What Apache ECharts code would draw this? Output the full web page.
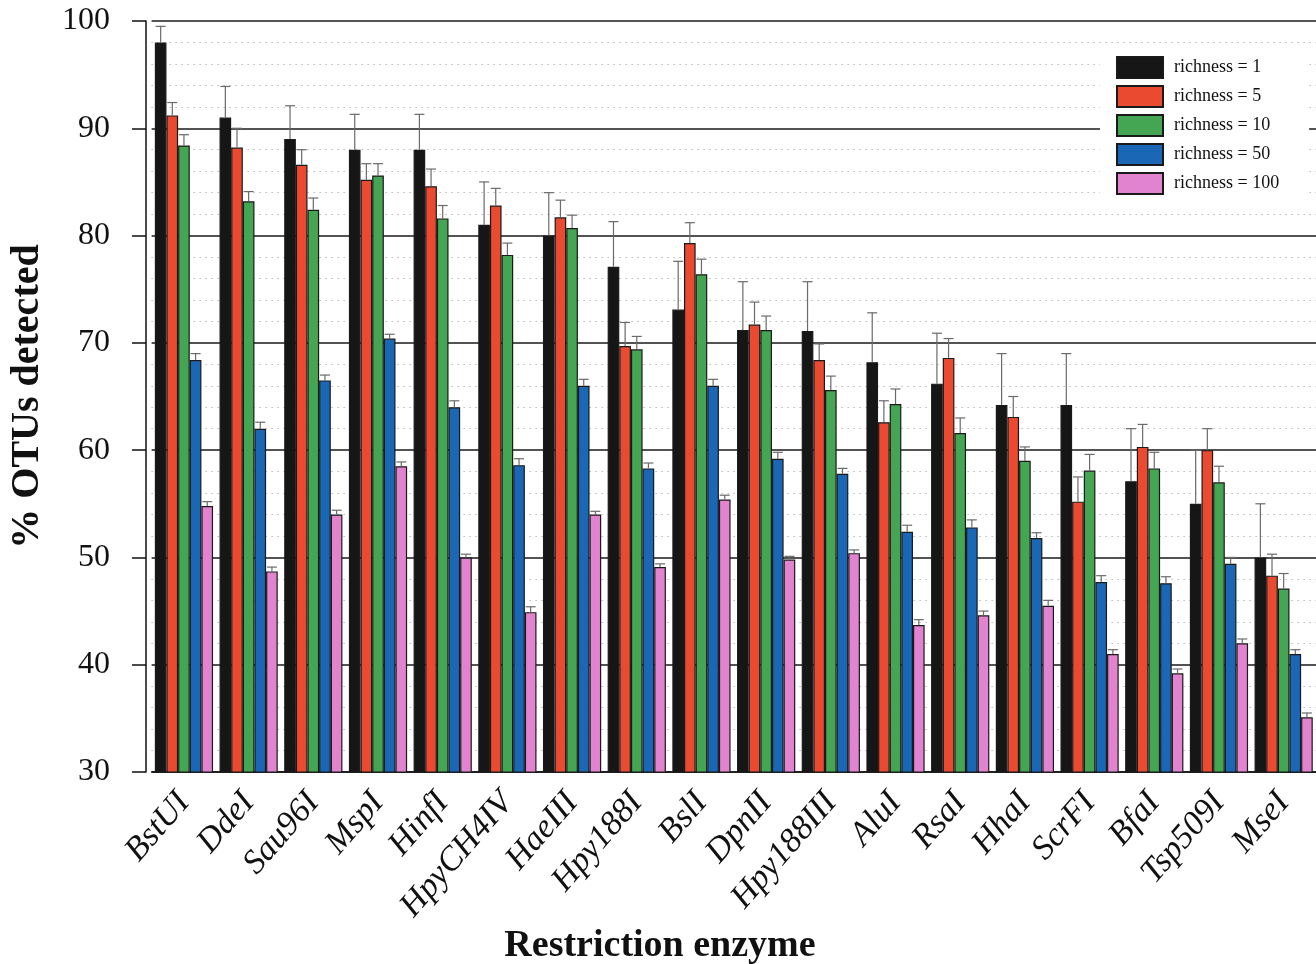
<!DOCTYPE html>
<html>
<head>
<meta charset="utf-8">
<script src="https://cdn.jsdelivr.net/npm/echarts@6/dist/echarts.min.js"></script>
<style>html,body{margin:0;padding:0;background:#fff}#c{width:1316px;height:964px}</style>
</head>
<body>
<div id="c"></div>
<script>
const categories = ['BstUI','DdeI','Sau96I','MspI','HinfI','HpyCH4IV','HaeIII','Hpy188I','BslI','DpnII','Hpy188III','AluI','RsaI','HhaI','ScrFI','BfaI','Tsp509I','MseI'];
const seriesNames = ['richness = 1','richness = 5','richness = 10','richness = 50','richness = 100'];
const yTicks = [30,40,50,60,70,80,90,100];

const r1   = [98.0,91.0,89.0,88.0,88.0,81.0,80.0,77.1,73.1,71.2,71.1,68.2,66.2,64.2,64.2,57.1,55.0,50.0];
const r5   = [91.2,88.2,86.6,85.2,84.6,82.8,81.7,69.7,79.3,71.7,68.4,62.6,68.6,63.1,55.2,60.3,60.0,48.3];
const r10  = [88.4,83.2,82.4,85.6,81.6,78.2,80.7,69.4,76.4,71.2,65.6,64.3,61.6,59.0,58.1,58.3,57.0,47.1];
const r50  = [68.4,62.0,66.5,70.4,64.0,58.6,66.0,58.3,66.0,59.2,57.8,52.4,52.8,51.8,47.7,47.6,49.4,41.0];
const r100 = [54.8,48.7,54.0,58.5,50.0,44.9,54.0,49.1,55.4,49.8,50.4,43.7,44.6,45.5,41.0,39.2,42.0,35.1];

const e1   = [1.5,2.9,3.1,3.3,3.3,4.0,4.0,4.2,4.5,4.5,4.6,4.6,4.7,4.8,4.8,4.9,5.0,5.0];
const e5   = [1.2,1.8,1.4,1.5,1.6,1.6,1.6,2.2,1.9,2.1,1.5,2.0,1.8,1.9,2.3,2.1,2.0,2.0];
const e10  = [1.0,0.9,1.1,1.1,1.2,1.1,1.2,1.2,1.4,1.3,1.3,1.4,1.4,1.3,1.5,1.5,1.5,1.4];
const e50  = [0.6,0.6,0.5,0.4,0.6,0.6,0.6,0.5,0.6,0.6,0.5,0.6,0.7,0.5,0.6,0.6,0.6,0.4];
const e100 = [0.4,0.4,0.4,0.4,0.3,0.5,0.3,0.3,0.4,0.3,0.3,0.5,0.4,0.5,0.4,0.4,0.4,0.4];

const means = [r1, r5, r10, r50, r100];
const errs = [e1, e5, e10, e50, e100];
const colors = ['#161616','#ea4a30','#44a552','#1a67b6','#e283d0'];

const SERIF = "'Liberation Serif','Times New Roman',serif";

const errData = [];
means.forEach((arr, s) => {
  arr.forEach((v, i) => errData.push([i, v + errs[s][i], s, v]));
});

const barSeries = seriesNames.map((name, s) => ({
  name: name,
  type: 'bar',
  data: means[s],
  barGap: '0%',
  barCategoryGap: '10%',
  itemStyle: { color: colors[s], borderColor: '#1a1a1a', borderWidth: 1.2 },
  z: 3
}));

const chart = echarts.init(document.getElementById('c'), null, { renderer: 'canvas' });
chart.setOption({
  animation: false,
  backgroundColor: '#fff',
  grid: { left: 150.6, right: -0.5, top: 21, bottom: 192 },
  title: {
    text: 'Restriction enzyme',
    left: 655, top: 922, textAlign: 'center',
    textStyle: { fontFamily: SERIF, fontWeight: 'bold', fontSize: 38, color: '#111' }
  },
  legend: {
    orient: 'vertical',
    left: 1100, top: 46,
    data: seriesNames,
    itemWidth: 46, itemHeight: 21, itemGap: 6,
    icon: 'rect',
    backgroundColor: '#fff',
    padding: [10, 30, 10, 16],
    textStyle: { fontFamily: SERIF, fontSize: 18, lineHeight: 21, color: '#111', padding: [0, 0, 0, 6] }
  },
  xAxis: {
    type: 'category',
    data: categories,
    axisLine: { lineStyle: { color: '#111', width: 1.5 } },
    axisTick: { alignWithLabel: true, length: 11, lineStyle: { color: '#111', width: 1.5 } },
    axisLabel: {
      interval: 0, rotate: 49, margin: 25,
      fontFamily: SERIF, fontStyle: 'italic', fontSize: 34, color: '#111'
    },
    splitLine: { show: false }
  },
  yAxis: {
    type: 'value',
    min: 30, max: 100, interval: 10,
    offset: 5.6,
    name: '% OTUs detected',
    nameLocation: 'middle',
    nameGap: 98,
    nameTextStyle: { fontFamily: SERIF, fontWeight: 'bold', fontSize: 40, color: '#111' },
    axisLine: { show: true, lineStyle: { color: '#111', width: 1.5 } },
    axisTick: { show: true, inside: false, length: 14, lineStyle: { color: '#111', width: 1.5 } },
    axisLabel: {
      margin: 36, fontFamily: SERIF, fontSize: 32, color: '#111',
      formatter: v => (yTicks.indexOf(v) >= 0 ? String(v) : '')
    },
    splitLine: { show: true, lineStyle: { color: '#1a1a1a', width: 1.5 } },
    minorTick: { show: false, splitNumber: 5 },
    minorSplitLine: { show: true, lineStyle: { color: '#999', width: 1, type: [1, 5] } }
  },
  series: barSeries.concat([{
    type: 'custom',
    name: 'err',
    data: errData,
    encode: { x: 0, y: 1 },
    z: 5,
    silent: true,
    renderItem: function (params, api) {
      const cat = api.value(0), top = api.value(1), s = api.value(2), mean = api.value(3);
      const band = api.size([1, 0])[0];
      const bw = band * 0.9 / 5;
      const base = api.coord([cat, mean]);
      const tp = api.coord([cat, top]);
      const x = base[0] + (s - 2) * bw;
      const st = { stroke: '#6a6a6a', lineWidth: 1.2 };
      return {
        type: 'group',
        children: [
          { type: 'line', shape: { x1: x, y1: base[1], x2: x, y2: tp[1] }, style: st },
          { type: 'line', shape: { x1: x - 5, y1: tp[1], x2: x + 5, y2: tp[1] }, style: st }
        ]
      };
    }
  }])
});
</script>
</body>
</html>
